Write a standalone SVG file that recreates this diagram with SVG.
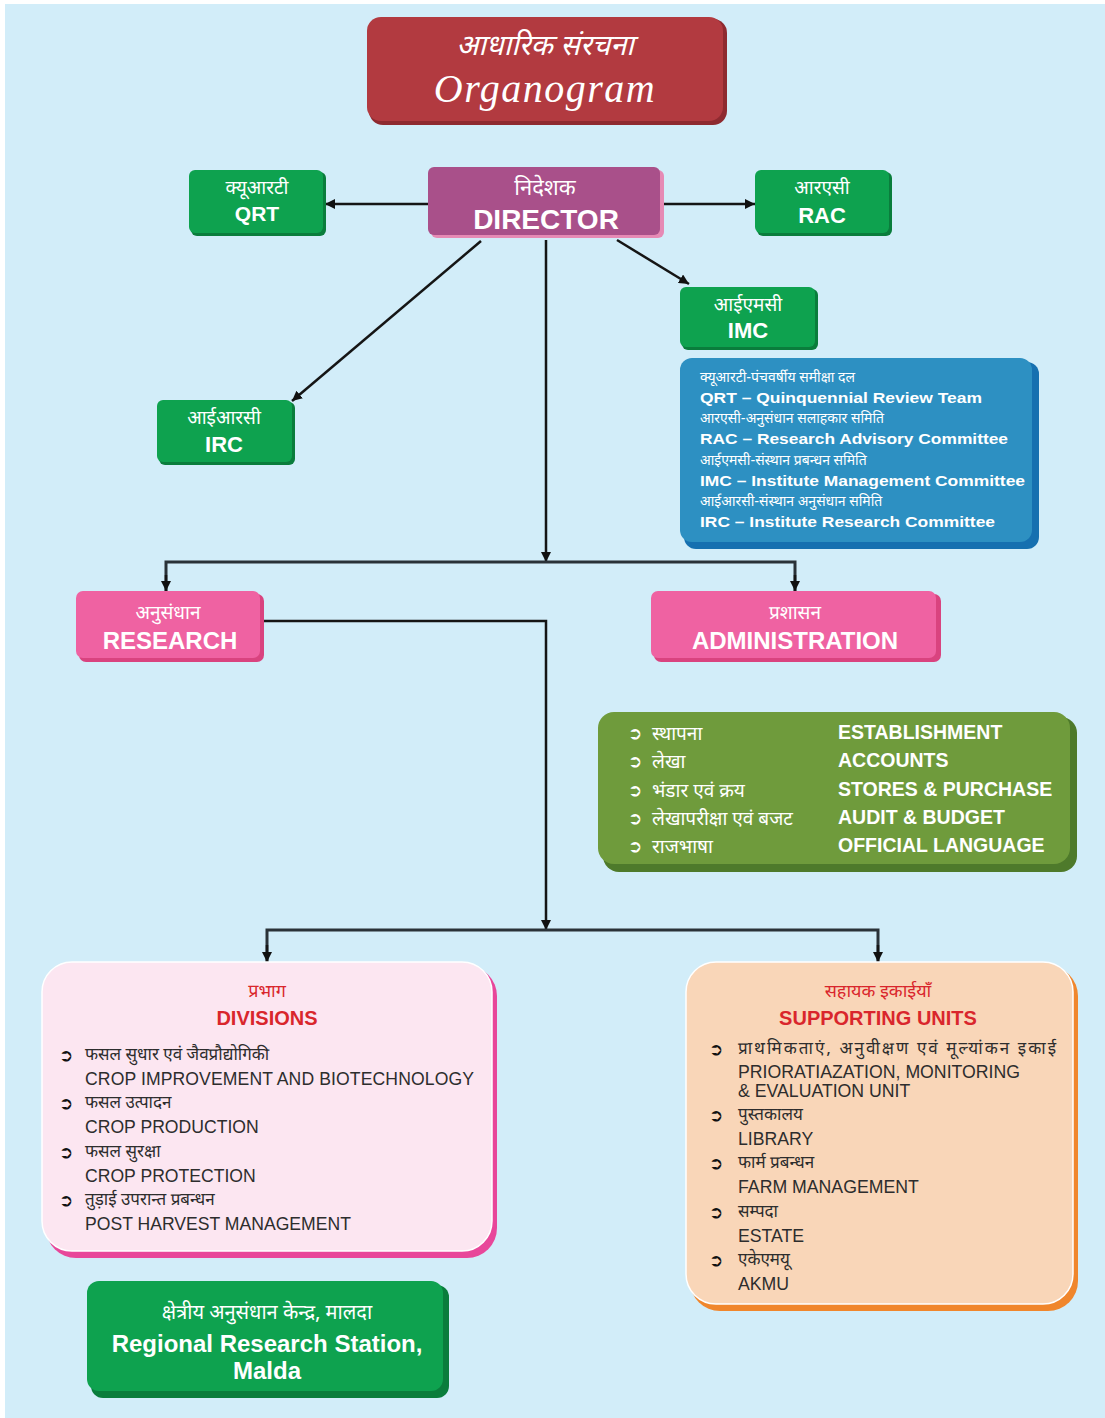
<svg xmlns="http://www.w3.org/2000/svg" width="1105" height="1418" viewBox="0 0 1105 1418">
<defs>
<marker id="arr" viewBox="0 0 10 10" refX="10" refY="5" markerWidth="10" markerHeight="10" markerUnits="userSpaceOnUse" orient="auto">
<path d="M0,0 L10,5 L0,10 Z" fill="#111"/>
</marker>
<style>
.dev{font-family:"Noto Sans Devanagari","Lohit Devanagari","Noto Sans","Noto Serif Devanagari",sans-serif;}
.en{font-family:"Liberation Sans",Arial,sans-serif;}
.bul{font-family:"DejaVu Sans",sans-serif;font-weight:bold;font-size:17px;}
.w{fill:#ffffff;}
.c{text-anchor:middle;}
.b{font-weight:bold;}
.ln{stroke:#151515;stroke-width:2.5;fill:none;}
.bus{stroke:#2a3238;stroke-width:3;fill:none;}
.gsh{fill:#0a7d3c;}
.gm{fill:#0ea24f;}
.red{fill:#d9262c;}
.dk{fill:#2d2d2d;}
</style>
</defs>
<rect x="0" y="0" width="1105" height="1418" fill="#ffffff"/>
<rect x="5" y="4" width="1100" height="1414" fill="#d2edf9"/>

<g id="connectors">
<line class="ln" x1="428" y1="204" x2="325" y2="204" marker-end="url(#arr)"/>
<line class="ln" x1="662" y1="204" x2="755" y2="204" marker-end="url(#arr)"/>
<line class="ln" x1="617" y1="240" x2="689" y2="284" marker-end="url(#arr)"/>
<line class="ln" x1="481" y1="241" x2="292" y2="401" marker-end="url(#arr)"/>
<line class="ln" x1="546" y1="240" x2="546" y2="562" marker-end="url(#arr)"/>
<polyline class="bus" points="166,591 166,562 795,562 795,591"/>
<line class="ln" x1="166" y1="575" x2="166" y2="591" marker-end="url(#arr)"/>
<line class="ln" x1="795" y1="575" x2="795" y2="591" marker-end="url(#arr)"/>
<polyline class="ln" points="262,621 546,621 546,930" marker-end="url(#arr)"/>
<polyline class="bus" points="267,962 267,930 878,930 878,962"/>
<line class="ln" x1="267" y1="945" x2="267" y2="962" marker-end="url(#arr)"/>
<line class="ln" x1="878" y1="945" x2="878" y2="962" marker-end="url(#arr)"/>
</g>

<g id="title">
<rect x="369" y="19" width="358" height="106" rx="14" fill="#8e2a30"/>
<rect x="367" y="17" width="356" height="104" rx="14" fill="#b23a40"/>
<text class="dev w c" x="545" y="55" font-size="29" font-style="italic">आधारिक संरचना</text>
<text class="w c" x="545" y="102" font-size="40" font-style="italic" font-family="Liberation Serif,serif" letter-spacing="1.5">Organogram</text>
</g>

<g id="director">
<rect x="431" y="170" width="233" height="68" rx="6" fill="#e68ab5"/>
<rect x="428" y="167" width="232" height="68" rx="6" fill="#a9508a"/>
<text class="dev w c" x="545" y="195" font-size="22">निदेशक</text>
<text class="en w c" x="546" y="229" font-size="28" font-weight="bold">DIRECTOR</text>
</g>

<g id="qrt">
<rect class="gsh" x="191" y="172" width="135" height="64" rx="6"/>
<rect class="gm" x="189" y="170" width="134" height="63" rx="6"/>
<text class="dev w c" x="257" y="194" font-size="19">क्यूआरटी</text>
<text class="en w c b" x="257" y="221" font-size="21">QRT</text>
</g>

<g id="rac">
<rect class="gsh" x="757" y="172" width="135" height="64" rx="6"/>
<rect class="gm" x="755" y="170" width="134" height="63" rx="6"/>
<text class="dev w c" x="822" y="194" font-size="19">आरएसी</text>
<text class="en w c b" x="822" y="223" font-size="22">RAC</text>
</g>

<g id="imc">
<rect class="gsh" x="682" y="289" width="136" height="61" rx="6"/>
<rect class="gm" x="680" y="287" width="135" height="60" rx="6"/>
<text class="dev w c" x="748" y="311" font-size="19">आईएमसी</text>
<text class="en w c b" x="748" y="338" font-size="22">IMC</text>
</g>

<g id="irc">
<rect class="gsh" x="159" y="402" width="136" height="63" rx="6"/>
<rect class="gm" x="157" y="400" width="135" height="62" rx="6"/>
<text class="dev w c" x="224" y="424" font-size="19">आईआरसी</text>
<text class="en w c b" x="224" y="452" font-size="22">IRC</text>
</g>

<g id="legend">
<rect x="684" y="362" width="355" height="187" rx="12" fill="#1670b0"/>
<rect x="680" y="358" width="352" height="184" rx="12" fill="#2d90c2"/>
<g class="w">
<text class="dev" x="700" y="382" font-size="14">क्यूआरटी-पंचवर्षीय समीक्षा दल</text>
<text class="en b" x="700" y="403" font-size="15.5" textLength="282" lengthAdjust="spacingAndGlyphs">QRT – Quinquennial Review Team</text>
<text class="dev" x="700" y="423" font-size="14">आरएसी-अनुसंधान सलाहकार समिति</text>
<text class="en b" x="700" y="444" font-size="15.5" textLength="308" lengthAdjust="spacingAndGlyphs">RAC – Research Advisory Committee</text>
<text class="dev" x="700" y="465" font-size="14">आईएमसी-संस्थान प्रबन्धन समिति</text>
<text class="en b" x="700" y="486" font-size="15.5" textLength="325" lengthAdjust="spacingAndGlyphs">IMC – Institute Management Committee</text>
<text class="dev" x="700" y="506" font-size="14">आईआरसी-संस्थान अनुसंधान समिति</text>
<text class="en b" x="700" y="527" font-size="15.5" textLength="295" lengthAdjust="spacingAndGlyphs">IRC – Institute Research Committee</text>
</g>
</g>

<g id="research">
<rect x="79" y="594" width="185" height="68" rx="7" fill="#d9437f"/>
<rect x="76" y="591" width="184" height="67" rx="7" fill="#ef62a2"/>
<text class="dev w c" x="168" y="619" font-size="19">अनुसंधान</text>
<text class="en w c b" x="170" y="649" font-size="24">RESEARCH</text>
</g>

<g id="administration">
<rect x="654" y="594" width="287" height="68" rx="7" fill="#d9437f"/>
<rect x="651" y="591" width="285" height="67" rx="7" fill="#ef62a2"/>
<text class="dev w c" x="795" y="619" font-size="19">प्रशासन</text>
<text class="en w c b" x="795" y="649" font-size="24">ADMINISTRATION</text>
</g>

<g id="admin-list">
<rect x="603" y="717" width="474" height="155" rx="16" fill="#4e7a2b"/>
<rect x="598" y="712" width="472" height="152" rx="16" fill="#6f9b3c"/>
<g class="w" font-size="19">
<text class="bul" x="628" y="739">➲</text>
<text class="dev" x="652" y="740">स्थापना</text>
<text class="en b" x="838" y="739" font-size="19.5">ESTABLISHMENT</text>
<text class="bul" x="628" y="767">➲</text>
<text class="dev" x="652" y="768">लेखा</text>
<text class="en b" x="838" y="767" font-size="19.5">ACCOUNTS</text>
<text class="bul" x="628" y="796">➲</text>
<text class="dev" x="652" y="797">भंडार एवं क्रय</text>
<text class="en b" x="838" y="796" font-size="19.5">STORES &amp; PURCHASE</text>
<text class="bul" x="628" y="824">➲</text>
<text class="dev" x="652" y="825">लेखापरीक्षा एवं बजट</text>
<text class="en b" x="838" y="824" font-size="19.5">AUDIT &amp; BUDGET</text>
<text class="bul" x="628" y="852">➲</text>
<text class="dev" x="652" y="853">राजभाषा</text>
<text class="en b" x="838" y="852" font-size="19.5">OFFICIAL LANGUAGE</text>
</g>
</g>

<g id="divisions">
<rect x="46" y="966" width="451" height="292" rx="30" fill="#e8479a"/>
<rect x="42" y="962" width="450" height="289" rx="30" fill="#fce6f1" stroke="#ffffff" stroke-width="1.5"/>
<text class="dev red c" x="267" y="997" font-size="18">प्रभाग</text>
<text class="en red c b" x="267" y="1025" font-size="20">DIVISIONS</text>
<g font-size="17.6">
<text class="bul" x="59" y="1061" fill="#111">➲</text>
<text class="dev dk" x="85" y="1060" font-size="17">फसल सुधार एवं जैवप्रौद्योगिकी</text>
<text class="en dk" x="85" y="1085" textLength="389">CROP IMPROVEMENT AND BIOTECHNOLOGY</text>
<text class="bul" x="59" y="1109" fill="#111">➲</text>
<text class="dev dk" x="85" y="1108" font-size="17">फसल उत्पादन</text>
<text class="en dk" x="85" y="1133">CROP PRODUCTION</text>
<text class="bul" x="59" y="1158" fill="#111">➲</text>
<text class="dev dk" x="85" y="1157" font-size="17">फसल सुरक्षा</text>
<text class="en dk" x="85" y="1182">CROP PROTECTION</text>
<text class="bul" x="59" y="1206" fill="#111">➲</text>
<text class="dev dk" x="85" y="1205" font-size="17">तुड़ाई उपरान्त प्रबन्धन</text>
<text class="en dk" x="85" y="1230">POST HARVEST MANAGEMENT</text>
</g>
</g>

<g id="supporting-units">
<rect x="690" y="966" width="388" height="345" rx="30" fill="#f0862c"/>
<rect x="686" y="962" width="387" height="342" rx="30" fill="#f9d6b8" stroke="#ffffff" stroke-width="1.5"/>
<text class="dev red c" x="878" y="997" font-size="18">सहायक इकाईयाँ</text>
<text class="en red c b" x="878" y="1025" font-size="20">SUPPORTING UNITS</text>
<g font-size="17.7">
<text class="bul" x="709" y="1055" fill="#111">➲</text>
<text class="dev dk" x="738" y="1054" font-size="17" textLength="318">प्राथमिकताएं, अनुवीक्षण एवं मूल्यांकन इकाई</text>
<text class="en dk" x="738" y="1078">PRIORATIAZATION, MONITORING</text>
<text class="en dk" x="738" y="1097">&amp; EVALUATION UNIT</text>
<text class="bul" x="709" y="1121" fill="#111">➲</text>
<text class="dev dk" x="738" y="1120" font-size="17">पुस्तकालय</text>
<text class="en dk" x="738" y="1145">LIBRARY</text>
<text class="bul" x="709" y="1169" fill="#111">➲</text>
<text class="dev dk" x="738" y="1168" font-size="17">फार्म प्रबन्धन</text>
<text class="en dk" x="738" y="1193">FARM MANAGEMENT</text>
<text class="bul" x="709" y="1218" fill="#111">➲</text>
<text class="dev dk" x="738" y="1217" font-size="17">सम्पदा</text>
<text class="en dk" x="738" y="1242">ESTATE</text>
<text class="bul" x="709" y="1266" fill="#111">➲</text>
<text class="dev dk" x="738" y="1265" font-size="17">एकेएमयू</text>
<text class="en dk" x="738" y="1290">AKMU</text>
</g>
</g>

<g id="regional-station">
<rect x="91" y="1285" width="358" height="113" rx="12" fill="#0a7d3c"/>
<rect x="87" y="1281" width="356" height="110" rx="12" fill="#0ea24f"/>
<text class="dev w c" x="267" y="1319" font-size="20">क्षेत्रीय अनुसंधान केन्द्र, मालदा</text>
<text class="en w c b" x="267" y="1352" font-size="24">Regional Research Station,</text>
<text class="en w c b" x="267" y="1379" font-size="24">Malda</text>
</g>
</svg>
